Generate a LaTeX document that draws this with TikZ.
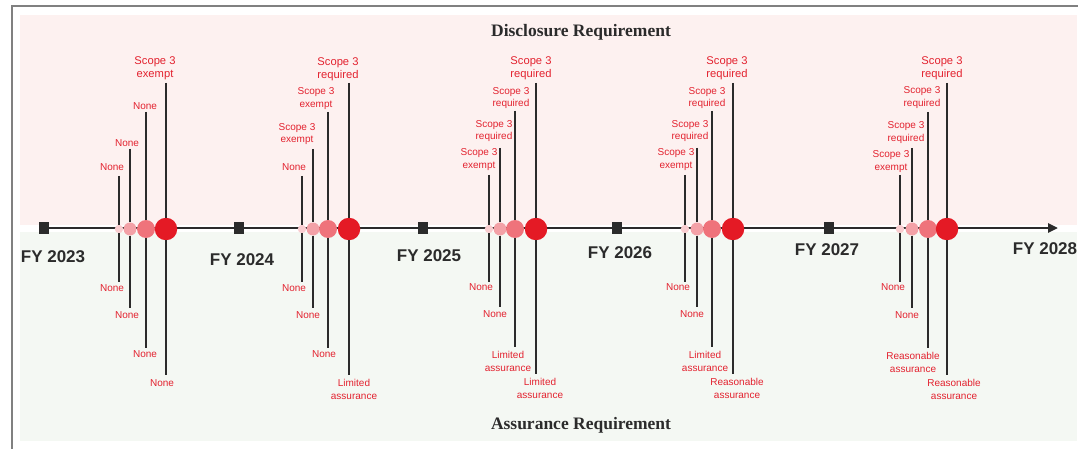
\documentclass[tikz,border=0pt]{standalone}
\usepackage{fontspec}
\setmainfont{Liberation Sans}
\newfontfamily\headfont{Liberation Serif}
\usetikzlibrary{arrows.meta}
\usetikzlibrary{positioning}

\definecolor{ink}{HTML}{2B2B2B}
\definecolor{notered}{HTML}{E3222F}
\definecolor{disclbg}{HTML}{FDF1F0}
\definecolor{assurbg}{HTML}{F4F8F3}
\definecolor{framegray}{HTML}{808080}
\definecolor{dotone}{HTML}{F9CDD0}
\definecolor{dottwo}{HTML}{F3A1A7}
\definecolor{dotthree}{HTML}{EF737B}
\definecolor{dotfour}{HTML}{E41A25}

\begin{document}
\begin{tikzpicture}[x=1pt,y=-1pt,
    yearbox/.style={rectangle,fill=ink,minimum width=10pt,minimum height=12pt,inner sep=0pt},
    yearlab/.style={text=ink,font=\fontsize{17}{20}\selectfont\bfseries,inner sep=0pt},
    head/.style={text=ink,font=\headfont\bfseries\fontsize{17.5}{20}\selectfont,inner sep=0pt},
    ev/.style={circle,draw=none,inner sep=0pt},
    ev1/.style={ev,fill=dotone,minimum size=8.5pt},
    ev2/.style={ev,fill=dottwo,minimum size=13pt},
    ev3/.style={ev,fill=dotthree,minimum size=18pt},
    ev4/.style={ev,fill=dotfour,minimum size=22.5pt},
    stem/.style={draw=ink,line width=1.5pt},
    note/.style={text=notered,font=\fontsize{10}{12.5}\selectfont,align=center,inner sep=0pt},
    bignote/.style={note,font=\fontsize{11.2}{13}\selectfont}]

  \useasboundingbox (0,0) rectangle (1078,449);

  \fill [disclbg] (20,15) rectangle (1077,225);
  \fill [assurbg] (20,232) rectangle (1077,441);
  \draw [framegray,line width=1.5pt] (12,449) -- (12,6) -- (1078,6);

  \node [head] (Dhead) at (581,32) {Disclosure Requirement};
  \node [head] (Ahead) at (581,425) {Assurance Requirement};

  \node [yearbox] (S23) at (44,228) {};
  \node [yearbox] (S24) at (239,228) {};
  \node [yearbox] (S25) at (423,228) {};
  \node [yearbox] (S26) at (617,228) {};
  \node [yearbox] (S27) at (829,228) {};
  \coordinate (tip) at (1058,228);

  \path [draw,ink,line width=2.8pt,-{Triangle[length=10pt,width=9pt]}] (S23) -- (tip);

  \node [yearlab] (Y23) at (53,257) {FY 2023};
  \node [yearlab] (Y24) at (242,260) {FY 2024};
  \node [yearlab] (Y25) at (429,256) {FY 2025};
  \node [yearlab] (Y26) at (620,253) {FY 2026};
  \node [yearlab] (Y27) at (827,250) {FY 2027};
  \node [yearlab] (Y28) at (1045,249) {FY 2028};

  \node [ev1] (E23_1) at (119,229) {};
  \node [ev2] (E23_2) at (130,229) {};
  \node [ev3] (E23_3) at (146,229) {};
  \node [ev4] (E23_4) at (166,229) {};
  \path (119,176) coordinate (T23_1) (130,149) coordinate (T23_2) (146,112) coordinate (T23_3) (166,83) coordinate (T23_4)
        (119,282) coordinate (B23_1) (130,308) coordinate (B23_2) (146,348) coordinate (B23_3) (166,375) coordinate (B23_4);
  \path [stem]
    (T23_1) edge (E23_1) (E23_1) edge (B23_1)
    (T23_2) edge (E23_2) (E23_2) edge (B23_2)
    (T23_3) edge (E23_3) (E23_3) edge (B23_3)
    (T23_4) edge (E23_4) (E23_4) edge (B23_4);
  \node [note] (D23_1) at (112,167) {None};
  \node [note] (D23_2) at (127,143) {None};
  \node [note] (D23_3) at (145,106) {None};
  \node [bignote] (D23_4) at (155,68.5) {Scope 3\\exempt};
  \node [note] (A23_1) at (112,288) {None};
  \node [note] (A23_2) at (127,315) {None};
  \node [note] (A23_3) at (145,354) {None};
  \node [note] (A23_4) at (162,383) {None};

  \node [ev1] (E24_1) at (302,229) {};
  \node [ev2] (E24_2) at (313,229) {};
  \node [ev3] (E24_3) at (328,229) {};
  \node [ev4] (E24_4) at (349,229) {};
  \path (302,176) coordinate (T24_1) (313,149) coordinate (T24_2) (328,112) coordinate (T24_3) (349,83) coordinate (T24_4)
        (302,282) coordinate (B24_1) (313,308) coordinate (B24_2) (328,348) coordinate (B24_3) (349,375) coordinate (B24_4);
  \path [stem]
    (T24_1) edge (E24_1) (E24_1) edge (B24_1)
    (T24_2) edge (E24_2) (E24_2) edge (B24_2)
    (T24_3) edge (E24_3) (E24_3) edge (B24_3)
    (T24_4) edge (E24_4) (E24_4) edge (B24_4);
  \node [note] (D24_1) at (294,167) {None};
  \node [note] (D24_2) at (297,134) {Scope 3\\exempt};
  \node [note] (D24_3) at (316,98.5) {Scope 3\\exempt};
  \node [bignote] (D24_4) at (338,69.5) {Scope 3\\required};
  \node [note] (A24_1) at (294,288) {None};
  \node [note] (A24_2) at (308,315) {None};
  \node [note] (A24_3) at (324,354) {None};
  \node [note] (A24_4) at (354,389.5) {Limited\\assurance};

  \node [ev1] (E25_1) at (489,229) {};
  \node [ev2] (E25_2) at (500,229) {};
  \node [ev3] (E25_3) at (515,229) {};
  \node [ev4] (E25_4) at (536,229) {};
  \path (489,175) coordinate (T25_1) (500,148) coordinate (T25_2) (515,111) coordinate (T25_3) (536,83) coordinate (T25_4)
        (489,282) coordinate (B25_1) (500,307) coordinate (B25_2) (515,347) coordinate (B25_3) (536,374) coordinate (B25_4);
  \path [stem]
    (T25_1) edge (E25_1) (E25_1) edge (B25_1)
    (T25_2) edge (E25_2) (E25_2) edge (B25_2)
    (T25_3) edge (E25_3) (E25_3) edge (B25_3)
    (T25_4) edge (E25_4) (E25_4) edge (B25_4);
  \node [note] (D25_1) at (479,159.5) {Scope 3\\exempt};
  \node [note] (D25_2) at (494,131) {Scope 3\\required};
  \node [note] (D25_3) at (511,98) {Scope 3\\required};
  \node [bignote] (D25_4) at (531,68) {Scope 3\\required};
  \node [note] (A25_1) at (481,287) {None};
  \node [note] (A25_2) at (495,314) {None};
  \node [note] (A25_3) at (508,361.5) {Limited\\assurance};
  \node [note] (A25_4) at (540,388.5) {Limited\\assurance};

  \node [ev1] (E26_1) at (685,229) {};
  \node [ev2] (E26_2) at (697,229) {};
  \node [ev3] (E26_3) at (712,229) {};
  \node [ev4] (E26_4) at (733,229) {};
  \path (685,175) coordinate (T26_1) (697,148) coordinate (T26_2) (712,111) coordinate (T26_3) (733,83) coordinate (T26_4)
        (685,282) coordinate (B26_1) (697,307) coordinate (B26_2) (712,347) coordinate (B26_3) (733,374) coordinate (B26_4);
  \path [stem]
    (T26_1) edge (E26_1) (E26_1) edge (B26_1)
    (T26_2) edge (E26_2) (E26_2) edge (B26_2)
    (T26_3) edge (E26_3) (E26_3) edge (B26_3)
    (T26_4) edge (E26_4) (E26_4) edge (B26_4);
  \node [note] (D26_1) at (676,159.5) {Scope 3\\exempt};
  \node [note] (D26_2) at (690,131) {Scope 3\\required};
  \node [note] (D26_3) at (707,98) {Scope 3\\required};
  \node [bignote] (D26_4) at (727,68) {Scope 3\\required};
  \node [note] (A26_1) at (678,287) {None};
  \node [note] (A26_2) at (692,314) {None};
  \node [note] (A26_3) at (705,361.5) {Limited\\assurance};
  \node [note] (A26_4) at (737,388.5) {Reasonable\\assurance};

  \node [ev1] (E27_1) at (900,229) {};
  \node [ev2] (E27_2) at (912,229) {};
  \node [ev3] (E27_3) at (928,229) {};
  \node [ev4] (E27_4) at (947,229) {};
  \path (900,175) coordinate (T27_1) (912,148) coordinate (T27_2) (928,112) coordinate (T27_3) (947,83) coordinate (T27_4)
        (900,282) coordinate (B27_1) (912,308) coordinate (B27_2) (928,348) coordinate (B27_3) (947,375) coordinate (B27_4);
  \path [stem]
    (T27_1) edge (E27_1) (E27_1) edge (B27_1)
    (T27_2) edge (E27_2) (E27_2) edge (B27_2)
    (T27_3) edge (E27_3) (E27_3) edge (B27_3)
    (T27_4) edge (E27_4) (E27_4) edge (B27_4);
  \node [note] (D27_1) at (891,161.5) {Scope 3\\exempt};
  \node [note] (D27_2) at (906,132.5) {Scope 3\\required};
  \node [note] (D27_3) at (922,97.5) {Scope 3\\required};
  \node [bignote] (D27_4) at (942,68.5) {Scope 3\\required};
  \node [note] (A27_1) at (893,287) {None};
  \node [note] (A27_2) at (907,315) {None};
  \node [note] (A27_3) at (913,362.5) {Reasonable\\assurance};
  \node [note] (A27_4) at (954,389.5) {Reasonable\\assurance};

\end{tikzpicture}
\end{document}
